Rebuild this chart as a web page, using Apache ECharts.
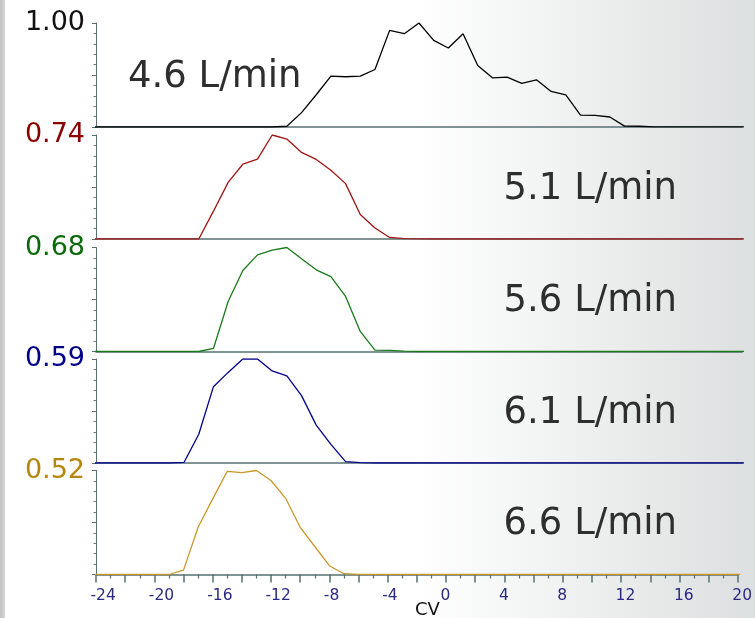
<!DOCTYPE html>
<html>
<head>
<meta charset="utf-8">
<script src="https://cdn.jsdelivr.net/npm/echarts@6/dist/echarts.min.js"></script>
<style>html,body{margin:0;padding:0;background:#fff}#chart{width:755px;height:618px}</style>
</head>
<body>
<div id="chart"></div>
<script>
// CV values (x), one point per integer
const cvValues = [];
for (let c = -25; c <= 21; c++) cvValues.push(c);

const flowLabels = ['4.6 L/min', '5.1 L/min', '5.6 L/min', '6.1 L/min', '6.6 L/min'];

const flow46 = [0,0,0,0,0,0,0,0,0,0,0,0,0,0,
  0.007,0.138,0.31,0.489,0.483,0.489,0.553,0.929,0.897,1.00,0.833,0.760,0.897,0.591,0.473,0.479,0.419,0.454,0.342,0.310,0.115,0.112,0.096,0.008,0.007,0.002,
  0.001,0.001,0.001,0.001,0.001,0.001,0.001];
const flow51 = [0,0,0,0,0,0,0,0,0,
  0.198,0.403,0.532,0.568,0.74,0.711,0.616,0.566,0.489,0.394,0.174,0.078,0.011,0.003,0.001,
  0,0,0,0,0,0,0,0,0,0,0,0,0,0,0,0,0,0,0,0,0,0,0];
const flow56 = [0,0,0,0,0,0,0,0,0,
  0.020,0.327,0.530,0.632,0.663,0.68,0.606,0.534,0.490,0.360,0.131,0.009,0.007,0.002,
  0,0,0,0,0,0,0,0,0,0,0,0,0,0,0,0,0,0,0,0,0,0,0,0];
const flow61 = [0,0,0,0,0,0,0,
  0.004,0.163,0.433,0.514,0.59,0.59,0.522,0.494,0.382,0.215,0.106,0.008,0.002,
  0,0,0,0,0,0,0,0,0,0,0,0,0,0,0,0,0,0,0,0,0,0,0,0,0,0,0];
const flow66 = [0,0,0,0,0,0,0,
  0.022,0.236,0.378,0.516,0.509,0.52,0.47,0.381,0.236,0.14,0.044,0.004,0.001,
  0,0,0,0,0,0,0,0,0,0,0,0,0,0,0,0,0,0,0,0,0,0,0,0,0,0,0];

const seriesValues = [flow46, flow51, flow56, flow61, flow66];
const lineColors = ['#000000', '#a01414', '#1a7a1a', '#00008b', '#c9982a'];
const labelColors = ['#111111', '#8b0000', '#0a6a0a', '#00008b', '#b8860b'];
const xTickLabels = [-24, -20, -16, -12, -8, -4, 0, 4, 8, 12, 16, 20];

const panelTops = [23, 135, 247.5, 359, 470.5];
const panelHeight = 104;
const axisColor = '#557070';
const FONT = '"DejaVu Sans", Verdana, sans-serif';

const grids = [], xAxes = [], yAxes = [], series = [], texts = [];
for (let i = 0; i < 5; i++) {
  const vals = seriesValues[i];
  const peak = Math.max.apply(null, vals);
  const last = i === 4;
  grids.push({ left: 96, right: 13, top: panelTops[i], height: panelHeight });
  xAxes.push({
    type: 'value', gridIndex: i, min: -24, max: 20, interval: 2,
    axisLine: { show: true, onZero: false, lineStyle: { color: axisColor, width: 1.5 } },
    axisTick: { show: last, length: 8, lineStyle: { color: axisColor, width: 1.5 } },
    minorTick: { show: last, splitNumber: 2, length: 4, lineStyle: { color: axisColor, width: 1.2 } },
    axisLabel: {
      show: last, margin: 13, color: '#2a2a80', fontSize: 15.5, fontFamily: FONT,
      align: 'left', padding: [0, 0, 0, -5.5],
      formatter: function (v) { return xTickLabels.indexOf(v) >= 0 ? String(v) : ''; }
    },
    splitLine: { show: false }
  });
  yAxes.push({
    type: 'value', gridIndex: i, min: 0, max: peak, interval: peak / 2,
    axisLine: { show: true, onZero: false, lineStyle: { color: axisColor, width: 1 } },
    axisTick: { show: true, length: 4, lineStyle: { color: axisColor } },
    minorTick: { show: true, splitNumber: 5, length: 2.5, lineStyle: { color: '#6a8484' } },
    splitLine: { show: false },
    axisLabel: {
      margin: 11, color: labelColors[i], fontSize: 27, fontFamily: FONT,
      formatter: function (v) { return Math.abs(v - peak) < 1e-6 ? peak.toFixed(2) : ''; }
    }
  });
  series.push({
    type: 'line', xAxisIndex: i, yAxisIndex: i, symbol: 'none',
    lineStyle: { color: lineColors[i], width: 1.3 },
    data: cvValues.map(function (c, k) { return [c, vals[k]]; }),
    animation: false
  });
}

texts.push({ type: 'text', left: 128, top: 58.5, style: { text: flowLabels[0], fill: '#2e2e2e', font: '37px ' + FONT } });
const rightTops = [170.5, 282.5, 394.5, 506];
for (let i = 1; i < 5; i++) {
  texts.push({ type: 'text', right: 78, top: rightTops[i - 1], style: { text: flowLabels[i], fill: '#2e2e2e', font: '37px ' + FONT } });
}
texts.push({ type: 'text', left: 415, top: 601, style: { text: 'CV', fill: '#111', font: '18px ' + FONT } });

const bg = {
  type: 'rect', z: -10, silent: true, shape: { x: 0, y: 0, width: 755, height: 618 },
  style: { fill: { type: 'linear', x: 0, y: 0, x2: 1, y2: 0, colorStops: [
    { offset: 0, color: '#ffffff' }, { offset: 0.55, color: '#ffffff' }, { offset: 1, color: '#dde0e0' } ] } }
};
const strip = {
  type: 'rect', z: -9, silent: true, shape: { x: 0, y: 0, width: 5, height: 618 },
  style: { fill: { type: 'linear', x: 0, y: 0, x2: 1, y2: 0, colorStops: [
    { offset: 0, color: '#c2c2c2' }, { offset: 1, color: '#d6d6d6' } ] } }
};

const chart = echarts.init(document.getElementById('chart'), null, { renderer: 'canvas' });
chart.setOption({
  animation: false,
  grid: grids, xAxis: xAxes, yAxis: yAxes, series: series,
  graphic: [bg, strip].concat(texts)
});
</script>
</body>
</html>
